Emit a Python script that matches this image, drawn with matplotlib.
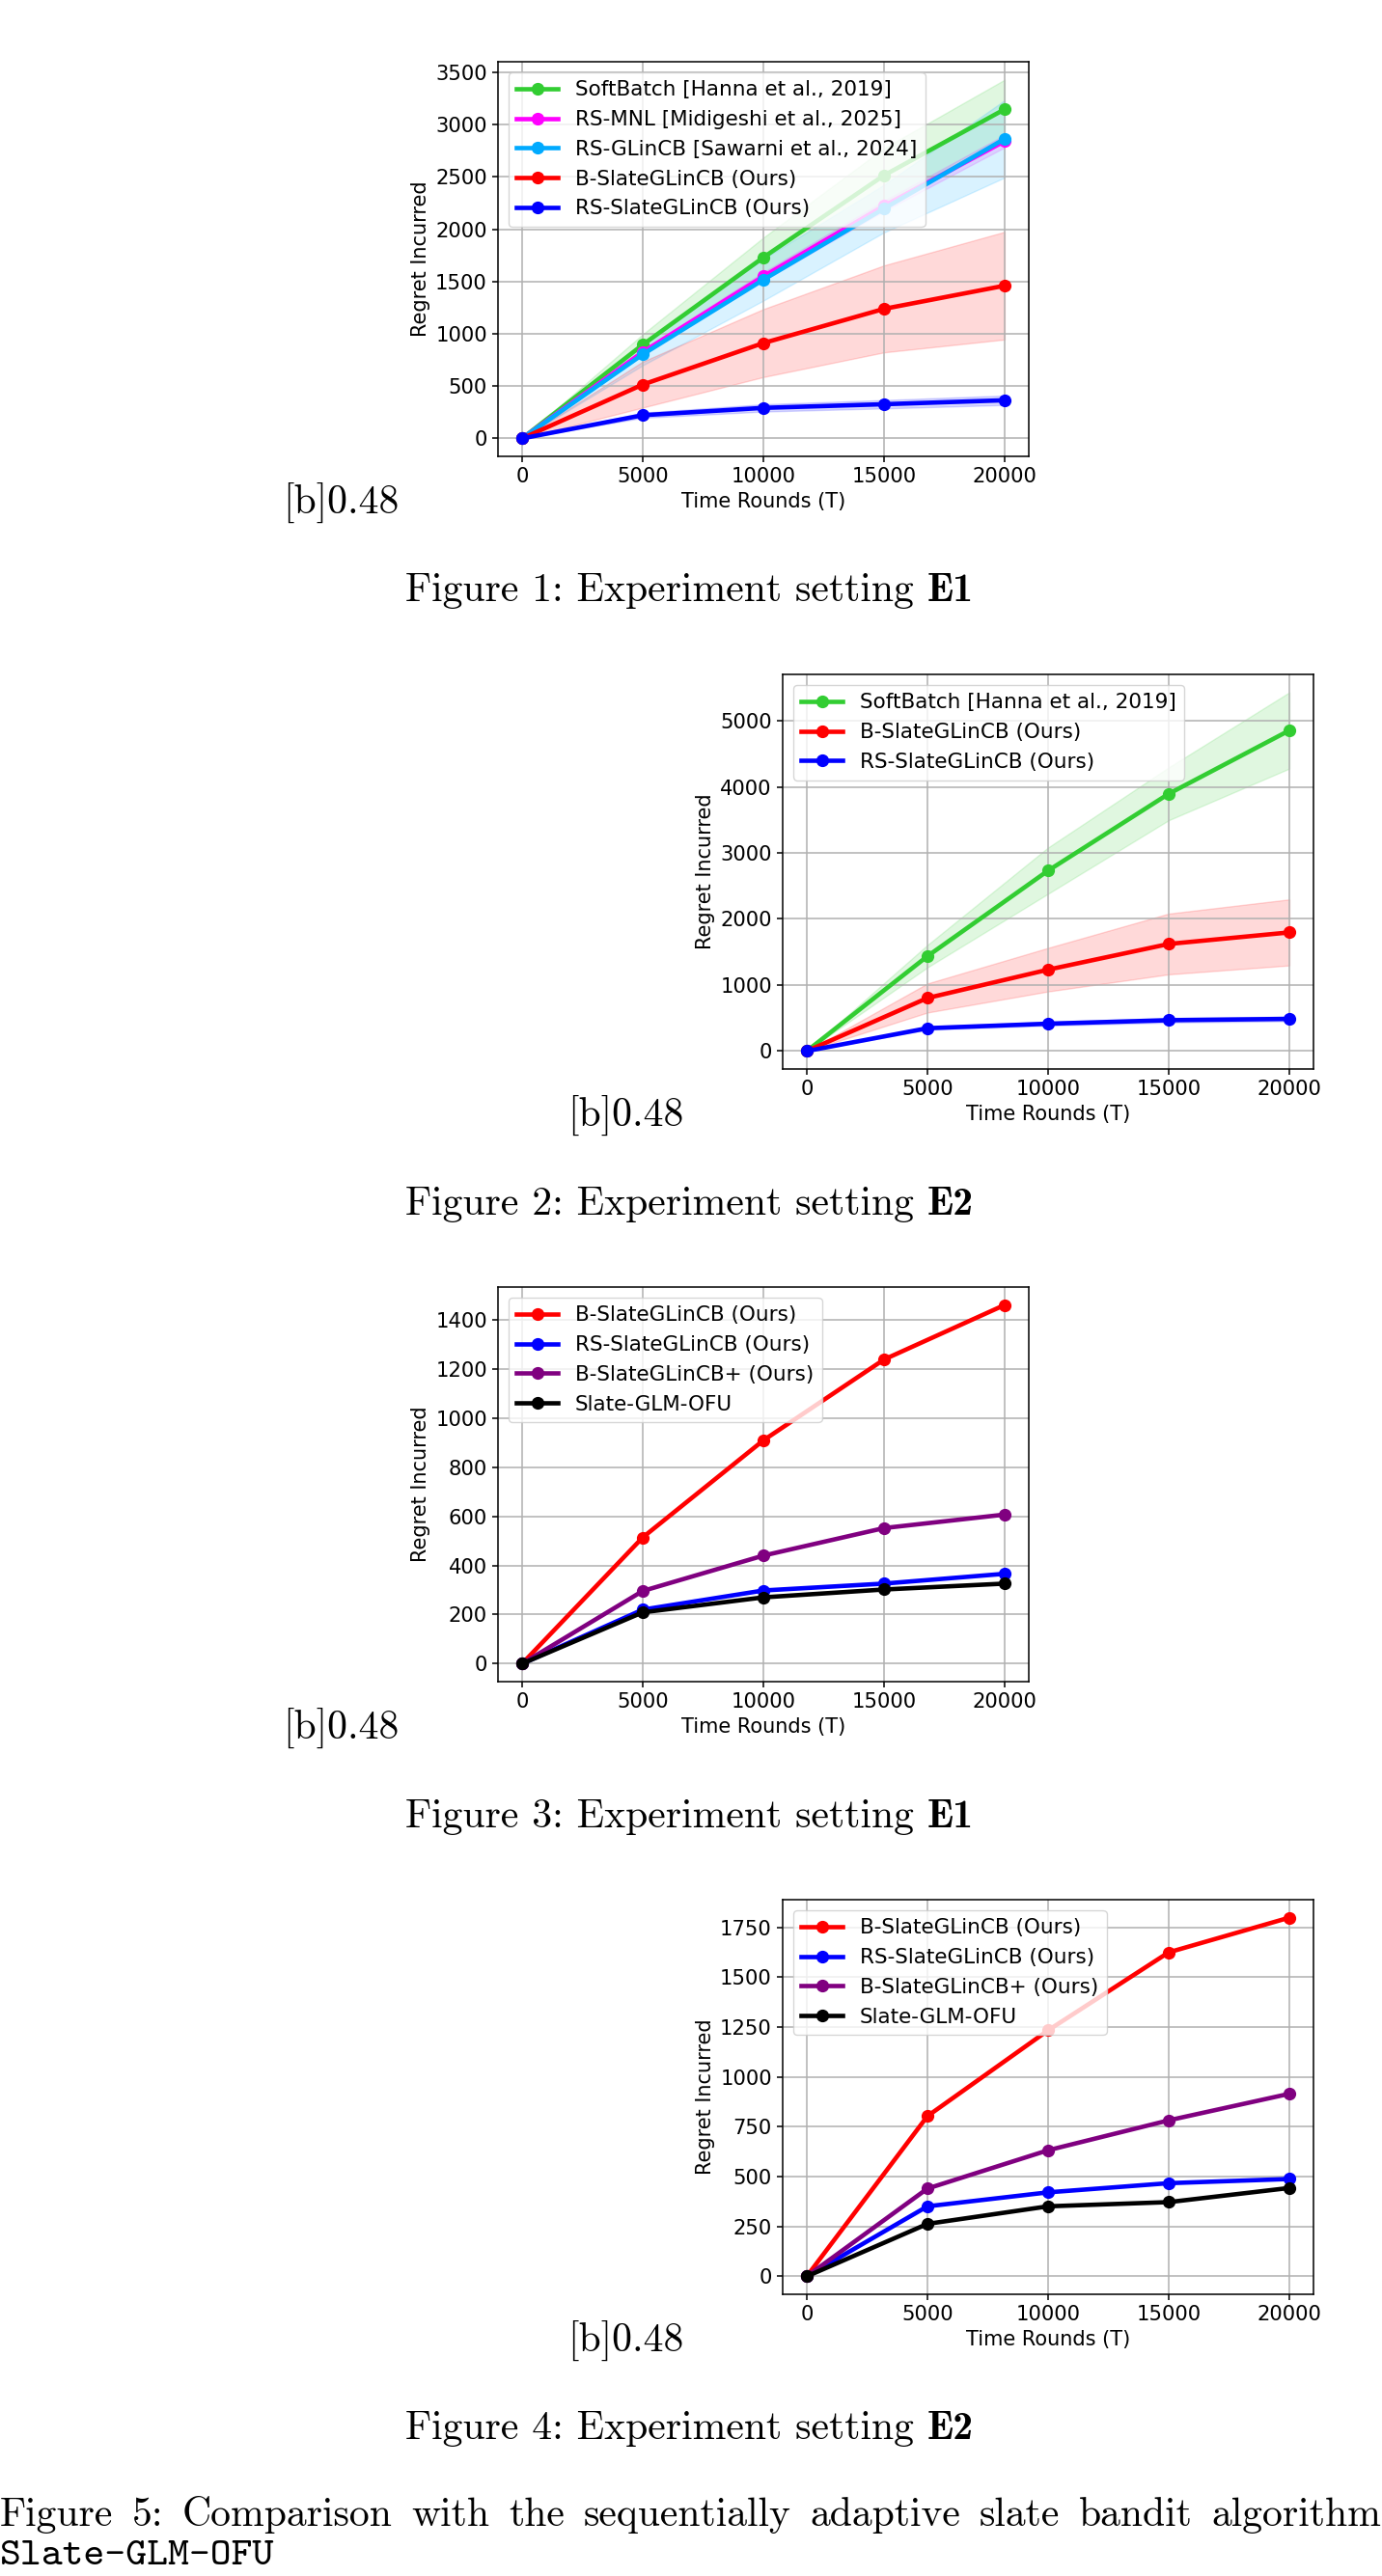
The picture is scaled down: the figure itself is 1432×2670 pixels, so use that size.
import matplotlib
matplotlib.use('Agg')
import matplotlib.pyplot as plt
import numpy as np

# ---------------- data ----------------
T = [0, 5000, 10000, 15000, 20000]

# Panel 1 (E1, with baselines)
p1_softbatch = [0, 896, 1731, 2516, 3148]
p1_softbatch_sd = [0, 100, 190, 260, 283]
p1_rsmnl = [0, 826, 1550, 2224, 2843]
p1_rsmnl_sd = [0, 25, 40, 50, 60]
p1_rsglincb = [0, 804, 1518, 2198, 2865]
p1_rsglincb_sd = [0, 105, 200, 228, 370]
p1_bslate = [0, 515, 912, 1239, 1461]
p1_bslate_sd = [0, 220, 325, 416, 515]
p1_rsslate = [0, 222, 292, 327, 365]
p1_rsslate_sd = [0, 25, 35, 40, 45]

# Panel 2 (E2, with baselines)
p2_softbatch = [0, 1436, 2731, 3894, 4853]
p2_softbatch_sd = [0, 170, 350, 400, 577]
p2_bslate = [0, 803, 1232, 1621, 1796]
p2_bslate_sd = [0, 220, 330, 460, 500]
p2_rsslate = [0, 346, 414, 467, 487]
p2_rsslate_sd = [0, 25, 30, 35, 35]

# Panel 3 (E1, vs Slate-GLM-OFU)
p3_bslate = [0, 514, 909, 1238, 1460]
p3_rsslate = [0, 220, 298, 326, 366]
p3_bslateplus = [0, 296, 440, 552, 607]
p3_ofu = [0, 209, 270, 302, 326]

# Panel 4 (E2, vs Slate-GLM-OFU)
p4_bslate = [0, 803, 1233, 1624, 1798]
p4_rsslate = [0, 351, 421, 467, 488]
p4_bslateplus = [0, 440, 632, 782, 915]
p4_ofu = [0, 263, 351, 372, 443]

lbl_soft = 'SoftBatch [Hanna et al., 2019]'
lbl_mnl = 'RS-MNL [Midigeshi et al., 2025]'
lbl_glin = 'RS-GLinCB [Sawarni et al., 2024]'
lbl_b = 'B-SlateGLinCB (Ours)'
lbl_rs = 'RS-SlateGLinCB (Ours)'
lbl_bp = 'B-SlateGLinCB+ (Ours)'
lbl_ofu = 'Slate-GLM-OFU'

yticks1 = [0, 500, 1000, 1500, 2000, 2500, 3000, 3500]
yticks2 = [0, 1000, 2000, 3000, 4000, 5000]
yticks3 = [0, 200, 400, 600, 800, 1000, 1200, 1400]
yticks4 = [0, 250, 500, 750, 1000, 1250, 1500, 1750]
xticks = [0, 5000, 10000, 15000, 20000]

caption_regular = ['Figure 1: Experiment setting ',
                   'Figure 2: Experiment setting ',
                   'Figure 3: Experiment setting ',
                   'Figure 4: Experiment setting ']
caption_bold = ['E1', 'E2', 'E1', 'E2']
cap5_line1 = 'Figure 5: Comparison with the sequentially adaptive slate bandit algorithm'
cap5_line2 = 'Slate-GLM-OFU'
subfig_artifact = '[b]0.48'

# ---------------- style ----------------
plt.rcParams['axes.linewidth'] = 1.1
plt.rcParams['grid.color'] = '#b0b0b0'
plt.rcParams['grid.linewidth'] = 1.1
plt.rcParams['xtick.major.width'] = 1.1
plt.rcParams['ytick.major.width'] = 1.1
plt.rcParams['font.size'] = 15

W, H = 1432, 2670
fig = plt.figure(figsize=(W / 100, H / 100), dpi=100)
fig.patch.set_facecolor('white')

LW = 3.3
MS = 8.5
FS_TICK = 15.2
FS_LEG = 15.5
FS_LAB = 15
GREEN = 'limegreen'
MAGENTA = 'magenta'
CYAN = '#00aaff'


def add_ax(x0, y0, x1, y1):
    return fig.add_axes([x0 / W, 1 - y1 / H, (x1 - x0) / W, (y1 - y0) / H])


def series(ax, y, color, label, sd=None):
    ax.plot(T, y, marker='o', color=color, lw=LW, ms=MS, label=label)
    if sd is not None:
        lo = np.array(y) - np.array(sd)
        hi = np.array(y) + np.array(sd)
        ax.fill_between(T, lo, hi, color=color, alpha=0.15)


def finish(ax, yticks):
    ax.set_xticks(xticks)
    ax.set_yticks(yticks)
    ax.tick_params(labelsize=FS_TICK, length=4.5)
    ax.set_xlabel('Time Rounds (T)', fontsize=FS_LAB)
    ax.set_ylabel('Regret Incurred', fontsize=FS_LAB)
    ax.grid(True)
    ax.legend(loc='upper left', fontsize=FS_LEG)


# Panel 1
ax1 = add_ax(516, 64, 1066, 473)
series(ax1, p1_softbatch, GREEN, lbl_soft, p1_softbatch_sd)
series(ax1, p1_rsmnl, MAGENTA, lbl_mnl, p1_rsmnl_sd)
series(ax1, p1_rsglincb, CYAN, lbl_glin, p1_rsglincb_sd)
series(ax1, p1_bslate, 'red', lbl_b, p1_bslate_sd)
series(ax1, p1_rsslate, 'blue', lbl_rs, p1_rsslate_sd)
finish(ax1, yticks1)

# Panel 2
ax2 = add_ax(811, 699, 1361, 1108)
series(ax2, p2_softbatch, GREEN, lbl_soft, p2_softbatch_sd)
series(ax2, p2_bslate, 'red', lbl_b, p2_bslate_sd)
series(ax2, p2_rsslate, 'blue', lbl_rs, p2_rsslate_sd)
finish(ax2, yticks2)

# Panel 3
ax3 = add_ax(516, 1334, 1066, 1743)
series(ax3, p3_bslate, 'red', lbl_b)
series(ax3, p3_rsslate, 'blue', lbl_rs)
series(ax3, p3_bslateplus, 'purple', lbl_bp)
series(ax3, p3_ofu, 'black', lbl_ofu)
finish(ax3, yticks3)

# Panel 4
ax4 = add_ax(811, 1969, 1361, 2378)
series(ax4, p4_bslate, 'red', lbl_b)
series(ax4, p4_rsslate, 'blue', lbl_rs)
series(ax4, p4_bslateplus, 'purple', lbl_bp)
series(ax4, p4_ofu, 'black', lbl_ofu)
finish(ax4, yticks4)

# ---------------- LaTeX-like page text ----------------
CAP_FS = 30
renderer = fig.canvas.get_renderer()

art_pos = [(413, 532), (708, 1167), (413, 1802), (708, 2437)]
for (x, y) in art_pos:
    fig.text(x / W, 1 - y / H, subfig_artifact, family='cmr10', fontsize=CAP_FS,
             ha='right', va='baseline')

cap_y = [623, 1259, 1894, 2528]
for reg, bold, y in zip(caption_regular, caption_bold, cap_y):
    t1 = fig.text(0, 1 - y / H, reg.rstrip(' '), family='cmr10', fontsize=CAP_FS,
                  ha='left', va='baseline')
    t2 = fig.text(0, 1 - y / H, bold, family='cmb10', fontsize=CAP_FS,
                  ha='left', va='baseline')
    w1 = t1.get_window_extent(renderer).width
    w2 = t2.get_window_extent(renderer).width * 1.08
    space = 0.333 * CAP_FS * 100 / 72
    total = w1 + space + w2
    x0 = 716 - total / 2
    t1.set_x(x0 / W)
    t2.set_x((x0 + w1 + space) / W)
    t2.set_fontstretch('expanded')

# justified first line of Figure 5 caption
words = cap5_line1.split(' ')
objs = [fig.text(0, 1 - 2618 / H, w, family='cmr10', fontsize=CAP_FS,
                 ha='left', va='baseline') for w in words]
widths = [o.get_window_extent(renderer).width for o in objs]
gap = (W - 1 - sum(widths)) / (len(words) - 1)
xpos = 0.0
for o, wd in zip(objs, widths):
    o.set_x(xpos / W)
    xpos += wd + gap

fig.text(0, 1 - 2658 / H, cap5_line2, family='cmtt10', fontsize=CAP_FS,
         ha='left', va='baseline')

fig.savefig('out.png', dpi=100, facecolor='white')
